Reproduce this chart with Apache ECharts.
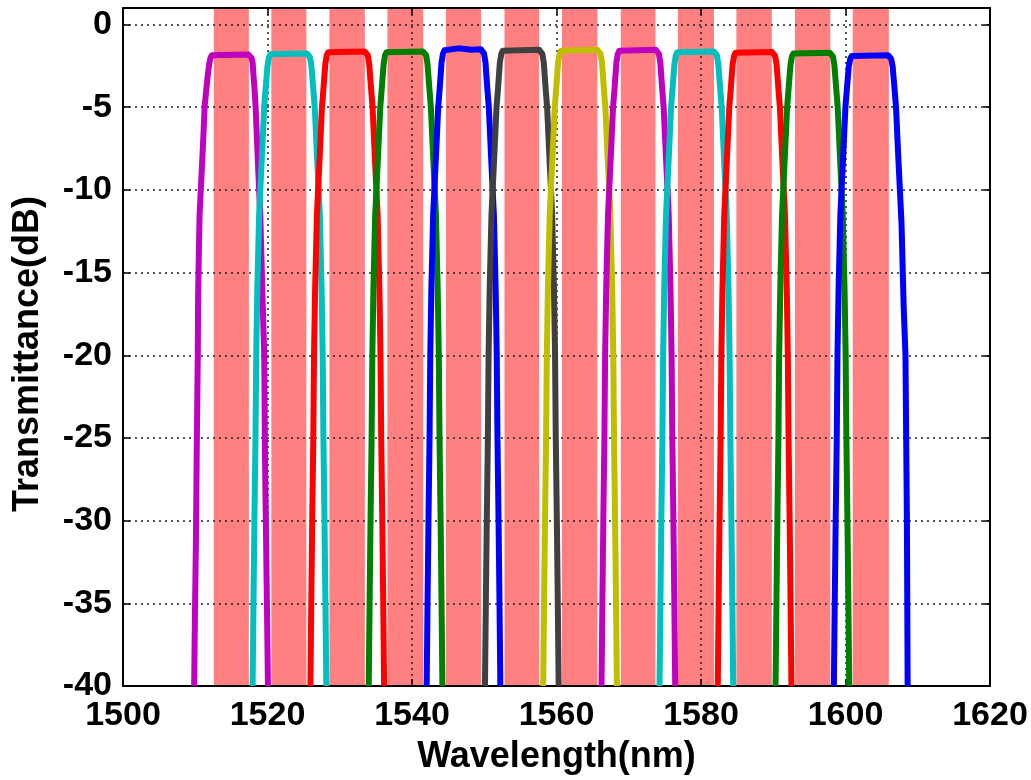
<!DOCTYPE html>
<html>
<head>
<meta charset="utf-8">
<title>Transmittance</title>
<script src="https://cdn.jsdelivr.net/npm/echarts@6/dist/echarts.min.js"></script>
<style>
  html, body { margin: 0; padding: 0; background: #fff; }
  #chart { width: 1031px; height: 780px; }
</style>
</head>
<body>
<div id="chart"></div>
<script>
// Passband windows (nm): start and end of each shaded channel
const bandStart = [1512.57, 1520.53, 1528.57, 1536.60, 1544.70, 1552.80, 1560.75, 1568.90, 1576.80, 1584.90, 1593.00, 1601.00];
const bandEnd   = [1517.42, 1525.38, 1533.47, 1541.55, 1549.56, 1557.60, 1565.65, 1573.70, 1581.80, 1589.80, 1597.90, 1606.00];

// Channel transmittance spectra, [wavelength nm, dB]
const ch1 = [[1509.85,-40],[1509.95,-36],[1510.10,-31],[1510.20,-26],[1510.35,-20],[1510.40,-16.3],[1510.60,-11.5],[1510.96,-8.3],[1511.15,-6.5],[1511.30,-4.95],[1511.55,-3.86],[1511.75,-3.0],[1511.95,-2.35],[1512.10,-2.02],[1512.30,-1.86],[1512.55,-1.81],
  [1517.35,-1.81],[1517.60,-1.86],[1517.80,-2.02],[1517.95,-2.35],[1518.05,-3.0],[1518.20,-3.86],[1518.35,-4.95],[1518.50,-6.5],[1518.67,-8.3],[1519.00,-11.5],[1519.30,-16.3],[1519.55,-20],[1519.65,-26],[1519.80,-31],[1519.95,-36],[1520.06,-40]];
const ch2 = [[1517.94,-40],[1518.06,-35],[1518.19,-30],[1518.34,-25],[1518.44,-20],[1518.59,-16],[1518.84,-11.5],[1519.19,-8.3],[1519.54,-5],[1519.74,-3.9],[1520.00,-2.5],[1520.20,-1.98],[1520.40,-1.80],[1520.64,-1.75],
  [1525.44,-1.75],[1525.68,-1.80],[1525.88,-1.98],[1526.08,-2.5],[1526.34,-3.9],[1526.54,-5],[1526.89,-8.3],[1527.24,-11.5],[1527.49,-16],[1527.64,-20],[1527.74,-25],[1527.89,-30],[1528.02,-35],[1528.14,-40]];
const ch3 = [[1525.94,-40],[1526.06,-35],[1526.19,-30],[1526.34,-25],[1526.44,-20],[1526.59,-16],[1526.84,-11.5],[1527.19,-8.3],[1527.54,-5],[1527.74,-3.9],[1528.00,-2.4],[1528.20,-1.86],[1528.40,-1.68],[1528.64,-1.63],
  [1533.44,-1.63],[1533.68,-1.68],[1533.88,-1.86],[1534.08,-2.4],[1534.34,-3.9],[1534.54,-5],[1534.89,-8.3],[1535.24,-11.5],[1535.49,-16],[1535.64,-20],[1535.74,-25],[1535.89,-30],[1536.02,-35],[1536.14,-40]];
const ch4 = [[1534.01,-40],[1534.13,-35],[1534.26,-30],[1534.41,-25],[1534.51,-20],[1534.66,-16],[1534.91,-11.5],[1535.26,-8.3],[1535.61,-5],[1535.81,-3.9],[1536.07,-2.4],[1536.27,-1.86],[1536.47,-1.68],[1536.71,-1.63],
  [1541.51,-1.63],[1541.75,-1.68],[1541.95,-1.86],[1542.15,-2.4],[1542.41,-3.9],[1542.61,-5],[1542.96,-8.3],[1543.31,-11.5],[1543.56,-16],[1543.71,-20],[1543.81,-25],[1543.96,-30],[1544.09,-35],[1544.21,-40]];
const ch5 = [[1542.03,-40],[1542.15,-35],[1542.28,-30],[1542.43,-25],[1542.53,-20],[1542.68,-16],[1542.93,-11.5],[1543.28,-8.3],[1543.63,-5],[1543.83,-3.9],[1544.09,-2.3],[1544.29,-1.76],[1544.49,-1.56],[1544.73,-1.5],
  [1546.40,-1.44],[1548.20,-1.52],[1549.53,-1.5],[1549.77,-1.56],[1549.97,-1.76],[1550.17,-2.3],[1550.43,-3.9],[1550.63,-5],[1550.98,-8.3],[1551.33,-11.5],[1551.58,-16],[1551.73,-20],[1551.83,-25],[1551.98,-30],[1552.11,-35],[1552.23,-40]];
const ch6 = [[1550.10,-40],[1550.22,-35],[1550.35,-30],[1550.50,-25],[1550.60,-20],[1550.75,-16],[1551.00,-11.5],[1551.35,-8.3],[1551.70,-5],[1551.90,-3.9],[1552.16,-2.3],[1552.36,-1.78],[1552.56,-1.58],[1552.80,-1.52],
  [1557.60,-1.52],[1557.84,-1.58],[1558.04,-1.78],[1558.24,-2.3],[1558.50,-3.9],[1558.70,-5],[1559.05,-8.3],[1559.40,-11.5],[1559.65,-16],[1559.80,-20],[1559.90,-25],[1560.05,-30],[1560.18,-35],[1560.30,-40]];
const ch7 = [[1558.16,-40],[1558.28,-35],[1558.41,-30],[1558.56,-25],[1558.66,-20],[1558.81,-16],[1559.06,-11.5],[1559.41,-8.3],[1559.76,-5],[1559.96,-3.9],[1560.22,-2.3],[1560.42,-1.78],[1560.62,-1.58],[1560.86,-1.52],
  [1565.66,-1.52],[1565.90,-1.58],[1566.10,-1.78],[1566.30,-2.3],[1566.56,-3.9],[1566.76,-5],[1567.11,-8.3],[1567.46,-11.5],[1567.71,-16],[1567.86,-20],[1567.96,-25],[1568.11,-30],[1568.24,-35],[1568.36,-40]];
const ch8 = [[1566.23,-40],[1566.35,-35],[1566.48,-30],[1566.63,-25],[1566.73,-20],[1566.88,-16],[1567.13,-11.5],[1567.48,-8.3],[1567.83,-5],[1568.03,-3.9],[1568.29,-2.3],[1568.49,-1.78],[1568.69,-1.58],[1568.93,-1.52],
  [1573.73,-1.52],[1573.97,-1.58],[1574.17,-1.78],[1574.37,-2.3],[1574.63,-3.9],[1574.83,-5],[1575.18,-8.3],[1575.53,-11.5],[1575.78,-16],[1575.93,-20],[1576.03,-25],[1576.18,-30],[1576.31,-35],[1576.43,-40]];
const ch9 = [[1574.26,-40],[1574.38,-35],[1574.51,-30],[1574.66,-25],[1574.76,-20],[1574.91,-16],[1575.16,-11.5],[1575.51,-8.3],[1575.86,-5],[1576.06,-3.9],[1576.32,-2.4],[1576.52,-1.86],[1576.72,-1.68],[1576.96,-1.63],
  [1581.76,-1.63],[1582.00,-1.68],[1582.20,-1.86],[1582.40,-2.4],[1582.66,-3.9],[1582.86,-5],[1583.21,-8.3],[1583.56,-11.5],[1583.81,-16],[1583.96,-20],[1584.06,-25],[1584.21,-30],[1584.34,-35],[1584.46,-40]];
const ch10 = [[1582.32,-40],[1582.44,-35],[1582.57,-30],[1582.72,-25],[1582.82,-20],[1582.97,-16],[1583.22,-11.5],[1583.57,-8.3],[1583.92,-5],[1584.12,-3.9],[1584.38,-2.4],[1584.58,-1.90],[1584.78,-1.71],[1585.02,-1.66],
  [1589.82,-1.66],[1590.06,-1.71],[1590.26,-1.90],[1590.46,-2.4],[1590.72,-3.9],[1590.92,-5],[1591.27,-8.3],[1591.62,-11.5],[1591.87,-16],[1592.02,-20],[1592.12,-25],[1592.27,-30],[1592.40,-35],[1592.52,-40]];
const ch11 = [[1590.32,-40],[1590.44,-35],[1590.57,-30],[1590.72,-25],[1590.82,-20],[1590.97,-16],[1591.22,-11.5],[1591.57,-8.3],[1591.92,-5],[1592.12,-3.9],[1592.38,-2.45],[1592.58,-1.94],[1592.78,-1.75],[1593.02,-1.7],
  [1597.82,-1.7],[1598.06,-1.75],[1598.26,-1.94],[1598.46,-2.45],[1598.72,-3.9],[1598.92,-5],[1599.27,-8.3],[1599.62,-11.5],[1599.87,-16],[1600.02,-20],[1600.12,-25],[1600.27,-30],[1600.40,-35],[1600.52,-40]];
const ch12 = [[1598.39,-40],[1598.51,-35],[1598.64,-30],[1598.79,-25],[1598.89,-20],[1599.04,-16],[1599.29,-11.5],[1599.64,-8.3],[1599.99,-5],[1600.19,-3.9],[1600.45,-2.55],[1600.65,-2.08],[1600.85,-1.91],[1601.09,-1.86],
  [1605.89,-1.86],[1606.13,-1.91],[1606.33,-2.08],[1606.53,-2.55],[1606.79,-3.9],[1606.99,-5],[1607.34,-8.3],[1607.75,-12],[1608.05,-17],[1608.30,-20],[1608.40,-25],[1608.50,-30],[1608.55,-35],[1608.60,-40]];

const channels = [ch1, ch2, ch3, ch4, ch5, ch6, ch7, ch8, ch9, ch10, ch11, ch12];
const channelColors = ['#bf00bf', '#00bfbf', '#ff0000', '#007f00', '#0000ff', '#404040',
                       '#bfbf00', '#bf00bf', '#00bfbf', '#ff0000', '#007f00', '#0000ff'];

const xTicks = { min: 1500, max: 1620, step: 20 };
const yTicks = { min: -40, max: 1, step: 5 };

const FONT = '"Liberation Sans", Arial, Helvetica, sans-serif';
const dotted = { type: [2, 4], color: '#222', width: 1.5 };

function axisBase(pos, range, isX, primary) {
  return {
    type: 'value',
    position: pos,
    min: range.min,
    max: range.max,
    interval: range.step,
    z: 2,
    axisLine: { show: true, onZero: false, lineStyle: { color: '#000', width: 2 } },
    axisTick: { show: true, inside: true, length: 7, lineStyle: { color: '#000', width: 1.5 } },
    splitLine: primary ? { show: true, lineStyle: dotted } : { show: false },
    axisLabel: primary ? {
      show: true,
      color: '#000',
      fontFamily: FONT,
      fontWeight: 'bold',
      fontSize: 34,
      margin: isX ? 13 : 11,
      showMaxLabel: isX ? true : false,
      formatter: v => (Math.round(v) % range.step === 0 ? String(Math.round(v)) : '')
    } : { show: false }
  };
}

const xMain = Object.assign(axisBase('bottom', xTicks, true, true), {
  name: 'Wavelength(nm)', nameLocation: 'middle', nameGap: 53,
  nameTextStyle: { color: '#000', fontFamily: FONT, fontWeight: 'bold', fontSize: 36 }
});
const yMain = Object.assign(axisBase('left', yTicks, false, true), {
  name: 'Transmittance(dB)', nameLocation: 'middle', nameGap: 77, nameRotate: 90,
  nameTextStyle: { color: '#000', fontFamily: FONT, fontWeight: 'bold', fontSize: 36, padding: [0, 14, 0, 0] }
});

const series = [{
  name: 'bands',
  type: 'line',
  data: [],
  z: 1,
  silent: true,
  markArea: {
    silent: true,
    z: 1,
    itemStyle: { color: '#ff8080', opacity: 1 },
    data: bandStart.map((s, i) => [{ xAxis: s }, { xAxis: bandEnd[i] }])
  }
}];

channels.forEach((d, i) => {
  series.push({
    name: 'ch' + (i + 1),
    type: 'line',
    data: d,
    z: 3,
    showSymbol: false,
    symbol: 'none',
    clip: true,
    lineStyle: { color: channelColors[i], width: 6, join: 'round' }
  });
});

const chart = echarts.init(document.getElementById('chart'), null, { renderer: 'canvas' });
chart.setOption({
  animation: false,
  backgroundColor: '#fff',
  grid: { left: 123, right: 41, top: 8, bottom: 91, containLabel: false },
  xAxis: [xMain, axisBase('top', xTicks, true, false)],
  yAxis: [yMain, axisBase('right', yTicks, false, false)],
  series: series
});
</script>
</body>
</html>
